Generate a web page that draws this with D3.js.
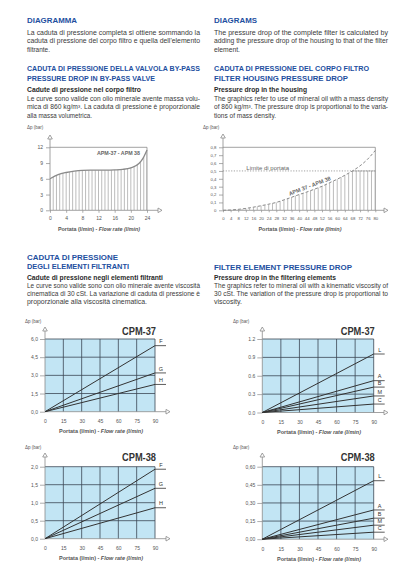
<!DOCTYPE html>
<html><head><meta charset="utf-8">
<script src="https://cdn.jsdelivr.net/npm/d3@7"></script>
<style>
html,body{margin:0;padding:0;background:#fff;}
svg{display:block;font-family:"Liberation Sans",Arial,sans-serif;}
</style></head>
<body>
<svg id="c" width="416" height="572"></svg>
<script>
// ---------- DATA ----------
// Chart 1: by-pass valve pressure drop (APM-37 / APM-38)
const bpFlow = [0, 2, 4, 6, 8, 10, 12, 14, 16, 18, 20, 22, 23, 24];
const bpDrop = [6.0, 6.8, 7.2, 7.45, 7.6, 7.65, 7.65, 7.65, 7.7, 7.8, 8.1, 8.9, 9.9, 11.5];
const bpXTicks = [0, 4, 8, 12, 16, 20, 24];
const bpYTicks = [0, 3, 6, 9, 12];
const bpHatch = d3.range(0, 24.01, 0.8);
// Chart 2: filter housing pressure drop
const hsFlow = [0, 4, 8, 12, 16, 20, 24, 28, 32, 36, 40, 44, 48, 52, 56, 60, 64, 68, 72, 76, 80];
const hsDrop = [0, 0.004, 0.012, 0.024, 0.04, 0.058, 0.078, 0.1, 0.132, 0.165, 0.2, 0.232, 0.268, 0.305, 0.35, 0.395, 0.445, 0.5, 0.565, 0.65, 0.76];
const hsLimit = 0.5;
const hsXTicks = d3.range(0, 81, 4);
const hsYTicks = [0, 0.1, 0.2, 0.3, 0.4, 0.5, 0.6, 0.7, 0.8];
const hsYLabels = ["0", "0,1", "0,2", "0,3", "0,4", "0,5", "0,6", "0,7", "0,8"];
const hsBars = d3.range(0, 81, 2);
// Filter element charts (value at 90 l/min, lines from origin)
const cpmXTicks = [0, 15, 30, 45, 60, 75, 90];
const cpm37LNames = ["F", "G", "H"];
const cpm37LValues = [5.45, 3.2, 2.25];
const cpm37LTicks = ["0,0", "1,5", "3,0", "4,5", "6,0"];
const cpm37RNames = ["L", "A", "B", "M", "C"];
const cpm37RValues = [0.955, 0.52, 0.415, 0.27, 0.138];
const cpm37RTicks = ["0.0", "0.3", "0.6", "0.9", "1.2"];
const cpm38LNames = ["F", "G", "H"];
const cpm38LValues = [1.93, 1.40, 0.86];
const cpm38LTicks = ["0,0", "0,5", "1,0", "1,5", "2,0"];
const cpm38RNames = ["L", "A", "B", "M", "C"];
const cpm38RValues = [0.484, 0.242, 0.174, 0.116, 0.058];
const cpm38RTicks = ["0,00", "0,15", "0,30", "0,45", "0,60"];

// ---------- STYLE ----------
const BLUE = "#1e4f9f", TXT = "#3a3a3a", AX = "#8a8a8a", GRID = "#3b4654", FILL = "#c2e5f4";
const svg = d3.select("#c");

// ---------- TEXT ----------
function line(x, y, t, o) {
  o = o || {};
  const el = svg.append("text").attr("x", x).attr("y", y).text(t)
    .attr("font-size", o.fs || 7).attr("fill", o.col || TXT)
    .attr("font-weight", o.fw || "normal");
  if (o.w) el.attr("textLength", o.w).attr("lengthAdjust", "spacingAndGlyphs");
  return el;
}
const H = {fs: 8, fw: "bold", col: BLUE};
const S = {fs: 7, fw: "bold", col: "#2a2a2a"};
// left column top
line(27, 23, "DIAGRAMMA", Object.assign({w: 50}, H));
line(27, 34.5, "La caduta di pressione completa si ottiene sommando la", {w: 173});
line(27, 43, "caduta di pressione del corpo filtro e quella dell'elemento", {w: 173});
line(27, 51.5, "filtrante.", {w: 23});
line(27, 70.5, "CADUTA DI PRESSIONE DELLA VALVOLA BY-PASS", Object.assign({w: 173}, H));
line(27, 80.5, "PRESSURE DROP IN BY-PASS VALVE", Object.assign({w: 128}, H));
line(27, 92.3, "Cadute di pressione nel corpo filtro", Object.assign({w: 114}, S));
line(27, 100.5, "Le curve sono valide con olio minerale avente massa volu-", {w: 173});
line(27, 109, "mica di 860 kg/m³. La caduta di pressione è proporzionale", {w: 173});
line(27, 117.5, "alla massa volumetrica.", {w: 65});
// right column top
line(214, 23, "DIAGRAMS", Object.assign({w: 43}, H));
line(214, 34.5, "The pressure drop of the complete filter is calculated by", {w: 174});
line(214, 43, "adding the pressure drop of the housing to that of the filter", {w: 174});
line(214, 51.5, "element.", {w: 26});
line(214, 70.5, "CADUTA DI PRESSIONE DEL CORPO FILTRO", Object.assign({w: 155}, H));
line(214, 80.5, "FILTER HOUSING PRESSURE DROP", Object.assign({w: 134}, H));
line(214, 92.3, "Pressure drop in the housing", Object.assign({w: 93}, S));
line(214, 100.5, "The graphics refer to use of mineral oil with a mass density", {w: 174});
line(214, 109, "of 860 kg/m³. The pressure drop is proportional to the varia-", {w: 174});
line(214, 117.5, "tions of mass density.", {w: 62});
// left column middle
line(27, 260, "CADUTA DI PRESSIONE", Object.assign({w: 91}, H));
line(27, 268.7, "DEGLI ELEMENTI FILTRANTI", Object.assign({w: 102}, H));
line(27, 279.5, "Cadute di pressione negli elementi filtranti", Object.assign({w: 136}, S));
line(27, 287.5, "Le curve sono valide sono con olio minerale avente viscosità", {w: 173});
line(27, 295.5, "cinematica di 30 cSt. La variazione di caduta di pressione è", {w: 173});
line(27, 303.5, "proporzionale alla viscosità cinematica.", {w: 120});
// right column middle
line(214, 269.5, "FILTER ELEMENT PRESSURE DROP", Object.assign({w: 138}, H));
line(214, 279.5, "Pressure drop in the filtering elements", Object.assign({w: 122}, S));
line(214, 287.5, "The graphics refer to mineral oil with a kinematic viscosity of", {w: 174});
line(214, 295.5, "30 cSt. The variation of the pressure drop is proportional to", {w: 174});
line(214, 303.5, "viscosity.", {w: 28});

// ---------- helpers ----------
function arrows(g, x0, yBase, topY, rightX) {
  g.append("line").attr("x1", x0).attr("x2", x0).attr("y1", yBase).attr("y2", topY + 4)
    .attr("stroke", AX).attr("stroke-width", 0.8);
  g.append("path").attr("d", `M${x0 - 2.3},${topY + 4}L${x0},${topY}L${x0 + 2.3},${topY + 4}Z`)
    .attr("fill", "#fff").attr("stroke", AX).attr("stroke-width", 0.8);
  g.append("line").attr("x1", x0).attr("x2", rightX - 4).attr("y1", yBase).attr("y2", yBase)
    .attr("stroke", AX).attr("stroke-width", 0.8);
  g.append("path").attr("d", `M${rightX - 4},${yBase - 2.3}L${rightX},${yBase}L${rightX - 4},${yBase + 2.3}Z`)
    .attr("fill", "#fff").attr("stroke", AX).attr("stroke-width", 0.8);
}
function xTitle(g, cx, y, w) {
  const t = g.append("text").attr("x", cx).attr("y", y).attr("text-anchor", "middle")
    .attr("font-size", 4.8).attr("font-weight", "bold").attr("fill", "#555")
    .attr("textLength", w).attr("lengthAdjust", "spacingAndGlyphs");
  t.append("tspan").text("Portata (l/min) - ");
  t.append("tspan").attr("font-style", "italic").text("Flow rate (l/min)");
}
function dpLabel(g, x, y) {
  g.append("text").attr("x", x).attr("y", y).attr("font-size", 4.5).attr("fill", "#555").text("Δp (bar)");
}
function styleAxis(sel, fs) {
  sel.select(".domain").remove();
  sel.selectAll(".tick line").attr("stroke", AX).attr("stroke-width", 0.7);
  sel.selectAll(".tick text").attr("fill", "#555").attr("font-size", fs)
    .attr("font-family", "Liberation Sans,Arial,sans-serif");
}

// ---------- Chart 1: by-pass valve ----------
(function () {
  const g = svg.append("g");
  const x = d3.scaleLinear().domain([0, 24]).range([50, 147]);
  const y = d3.scaleLinear().domain([0, 12]).range([210.3, 147.3]);
  dpLabel(g, 27, 128.5);
  const area = d3.area().x((d, i) => x(bpFlow[i])).y0(y(0)).y1(d => y(d)).curve(d3.curveMonotoneX);
  g.append("clipPath").attr("id", "bpclip").append("path").attr("d", area(bpDrop));
  g.append("g").attr("clip-path", "url(#bpclip)").selectAll("line").data(bpHatch).join("line")
    .attr("x1", d => x(d)).attr("x2", d => x(d)).attr("y1", y(0)).attr("y2", y(12))
    .attr("stroke", "#8f8f8f").attr("stroke-width", 0.6);
  const ln = d3.line().x((d, i) => x(bpFlow[i])).y(d => y(d)).curve(d3.curveMonotoneX);
  g.append("path").attr("d", ln(bpDrop)).attr("fill", "none").attr("stroke", "#8a8a8a").attr("stroke-width", 1.3);
  g.append("path").attr("d", `M${x(0)},${y(12)}H${x(24)}V${y(0)}`).attr("fill", "none")
    .attr("stroke", AX).attr("stroke-width", 0.8);
  arrows(g, x(0), y(0), 135, 162);
  const ax = g.append("g").attr("transform", `translate(0,${y(0)})`)
    .call(d3.axisBottom(x).tickValues(bpXTicks).tickSize(2.5).tickPadding(4));
  styleAxis(ax, 5);
  const ay = g.append("g").attr("transform", `translate(${x(0)},0)`)
    .call(d3.axisLeft(y).tickValues(bpYTicks).tickSize(4).tickPadding(3));
  styleAxis(ay, 5);
  g.append("text").attr("x", 140).attr("y", 154.8).attr("text-anchor", "end")
    .attr("font-size", 5.3).attr("font-weight", "bold").attr("fill", "#666").text("APM-37 - APM 38");
  xTitle(g, 99, 231, 82);
})();

// ---------- Chart 2: filter housing ----------
(function () {
  const g = svg.append("g");
  const x = d3.scaleLinear().domain([0, 80]).range([223, 375.3]);
  const y = d3.scaleLinear().domain([0, 0.8]).range([210.3, 147.3]);
  dpLabel(g, 203, 128.5);
  const area = d3.area().x((d, i) => x(hsFlow[i])).y0(y(0)).y1(d => y(d)).curve(d3.curveMonotoneX);
  g.append("clipPath").attr("id", "hsclip").append("path").attr("d", area(hsDrop));
  g.append("clipPath").attr("id", "hslim").append("rect")
    .attr("x", x(0) - 2).attr("y", y(hsLimit)).attr("width", x(80) - x(0) + 4).attr("height", y(0) - y(hsLimit));
  g.append("g").attr("clip-path", "url(#hslim)").append("g").attr("clip-path", "url(#hsclip)")
    .selectAll("line").data(hsBars).join("line")
    .attr("x1", d => x(d)).attr("x2", d => x(d)).attr("y1", y(0)).attr("y2", y(0.8))
    .attr("stroke", "#8f8f8f").attr("stroke-width", 0.6);
  g.append("line").attr("x1", x(68)).attr("x2", x(80)).attr("y1", y(hsLimit)).attr("y2", y(hsLimit))
    .attr("stroke", "#8f8f8f").attr("stroke-width", 0.6);
  const ln = d3.line().x((d, i) => x(hsFlow[i])).y(d => y(d)).curve(d3.curveMonotoneX);
  g.append("path").attr("d", ln(hsDrop)).attr("fill", "none").attr("stroke", "#8a8a8a")
    .attr("stroke-width", 1).attr("stroke-dasharray", "3,2");
  g.append("line").attr("x1", x(0)).attr("x2", x(80)).attr("y1", y(hsLimit)).attr("y2", y(hsLimit))
    .attr("stroke", "#8a8a8a").attr("stroke-width", 0.8).attr("stroke-dasharray", "1.2,1.5");
  g.append("text").attr("x", 246.3).attr("y", 169.8).attr("font-size", 6).attr("fill", "#666").text("Limite di portata");
  g.append("path").attr("d", `M${x(0)},${y(0.8)}H${x(80)}V${y(0)}`).attr("fill", "none")
    .attr("stroke", AX).attr("stroke-width", 0.8);
  arrows(g, x(0), y(0), 134, 388);
  const ax = g.append("g").attr("transform", `translate(0,${y(0)})`)
    .call(d3.axisBottom(x).tickValues(hsXTicks).tickSize(2).tickPadding(4.5));
  styleAxis(ax, 4.3);
  const ay = g.append("g").attr("transform", `translate(${x(0)},0)`)
    .call(d3.axisLeft(y).tickValues(hsYTicks).tickFormat((d, i) => hsYLabels[i]).tickSize(4).tickPadding(2.5));
  styleAxis(ay, 4.3);
  g.append("text").attr("transform", `translate(${x(35)},${y(0.185)}) rotate(-21)`)
    .attr("font-size", 5.5).attr("font-weight", "bold").attr("fill", "#666").text("APM 37 - APM 38");
  xTitle(g, 300, 231, 83);
})();

// ---------- Filter element charts ----------
function cpm(cfg) {
  const g = svg.append("g");
  const x = d3.scaleLinear().domain([0, 90]).range([cfg.x0, cfg.x1]);
  const y = d3.scaleLinear().domain([0, cfg.yMax]).range([cfg.yb, cfg.yt]);
  const yTicks = d3.range(5).map(i => cfg.yMax * i / 4);
  dpLabel(g, cfg.dpx, cfg.dpy);
  g.append("rect").attr("x", x(0)).attr("y", y(cfg.yMax)).attr("width", x(90) - x(0))
    .attr("height", y(0) - y(cfg.yMax)).attr("fill", FILL);
  g.selectAll(".vg").data(cpmXTicks.slice(1)).join("line")
    .attr("x1", d => x(d)).attr("x2", d => x(d)).attr("y1", y(0)).attr("y2", y(cfg.yMax))
    .attr("stroke", GRID).attr("stroke-width", 0.8);
  g.selectAll(".hg").data(yTicks.slice(1)).join("line")
    .attr("x1", x(0)).attr("x2", x(90)).attr("y1", d => y(d)).attr("y2", d => y(d))
    .attr("stroke", GRID).attr("stroke-width", 0.8);
  arrows(g, x(0), y(0), cfg.arrowTop, cfg.arrowRight);
  const ax = g.append("g").attr("transform", `translate(0,${y(0)})`)
    .call(d3.axisBottom(x).tickValues(cpmXTicks).tickSize(0).tickPadding(8));
  styleAxis(ax, 5);
  const ay = g.append("g").attr("transform", `translate(${x(0)},0)`)
    .call(d3.axisLeft(y).tickValues(yTicks).tickFormat((d, i) => cfg.ticks[i]).tickSize(5).tickPadding(2));
  styleAxis(ay, 5);
  cfg.values.forEach((v, i) => {
    g.append("line").attr("x1", x(0)).attr("y1", y(0)).attr("x2", x(90)).attr("y2", y(v))
      .attr("stroke", "#333").attr("stroke-width", 1);
    g.append("line").attr("x1", x(90)).attr("y1", y(v)).attr("x2", x(90) + 11).attr("y2", y(v))
      .attr("stroke", "#333").attr("stroke-width", 0.8);
    g.append("text").attr("x", x(90) + 6).attr("y", y(v) - 2.3).attr("text-anchor", "middle")
      .attr("font-size", 5.5).attr("fill", "#333").text(cfg.names[i]);
  });
  g.append("text").attr("x", x(90) + 1).attr("y", cfg.titleY).attr("text-anchor", "end")
    .attr("font-size", 11).attr("font-weight", "bold").attr("fill", "#333")
    .attr("textLength", 34).attr("lengthAdjust", "spacingAndGlyphs").text(cfg.title);
  xTitle(g, (x(0) + x(90)) / 2 + 1, cfg.yb + 21.5, 84);
}
cpm({x0: 45, x1: 155, yt: 339, yb: 411.7, yMax: 6, ticks: cpm37LTicks, names: cpm37LNames, values: cpm37LValues,
  title: "CPM-37", titleY: 335, dpx: 25, dpy: 322.5, arrowTop: 327, arrowRight: 170});
cpm({x0: 262.3, x1: 373.7, yt: 339, yb: 412.5, yMax: 1.2, ticks: cpm37RTicks, names: cpm37RNames, values: cpm37RValues,
  title: "CPM-37", titleY: 335, dpx: 233, dpy: 322.5, arrowTop: 327, arrowRight: 388});
cpm({x0: 45, x1: 155, yt: 466.7, yb: 538.7, yMax: 2, ticks: cpm38LTicks, names: cpm38LNames, values: cpm38LValues,
  title: "CPM-38", titleY: 461, dpx: 25, dpy: 448.5, arrowTop: 453, arrowRight: 170});
cpm({x0: 262.3, x1: 373.7, yt: 466.7, yb: 539.2, yMax: 0.6, ticks: cpm38RTicks, names: cpm38RNames, values: cpm38RValues,
  title: "CPM-38", titleY: 461, dpx: 233, dpy: 448.5, arrowTop: 453, arrowRight: 388});
</script>
</body></html>
